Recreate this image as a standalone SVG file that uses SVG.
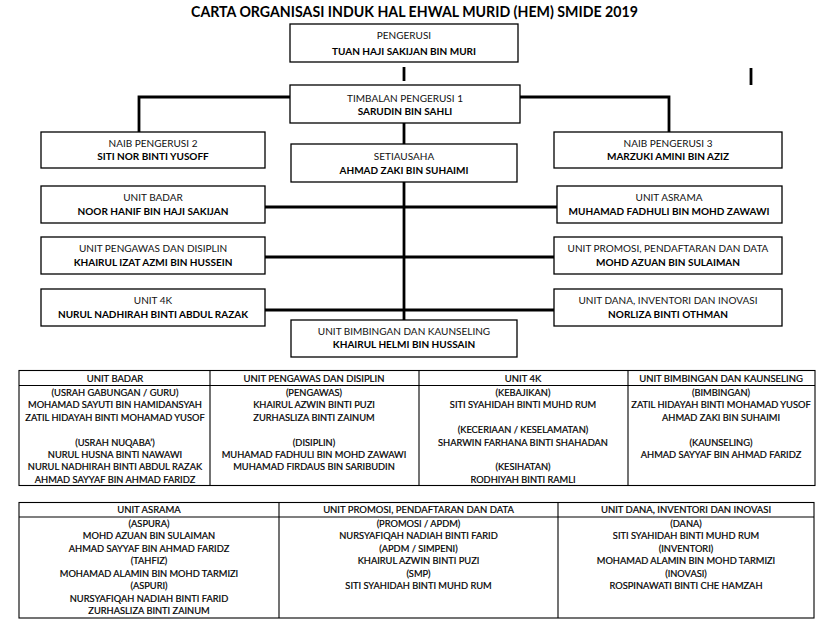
<svg xmlns="http://www.w3.org/2000/svg" width="831" height="627" viewBox="0 0 831 627">
<style>
.box{fill:#fff;stroke:#000;stroke-width:1.3}
.role{font-family:Lato,"Liberation Sans",sans-serif;font-size:10px;text-anchor:middle;fill:#111}
.name{font-family:Lato,"Liberation Sans",sans-serif;font-size:10px;font-weight:bold;text-anchor:middle;fill:#000}
.conn{stroke:#000;stroke-width:2.8;fill:none}
.tb{fill:none;stroke:#000;stroke-width:1.1}
.th{font-family:Lato,"Liberation Sans",sans-serif;font-size:9.5px;text-anchor:middle;fill:#000;stroke:#000;stroke-width:0.2}
.tt{font-family:Lato,"Liberation Sans",sans-serif;font-size:9.3px;text-anchor:middle;fill:#000;stroke:#000;stroke-width:0.2}
.title{font-family:Lato,"Liberation Sans",sans-serif;font-size:14.5px;font-weight:bold;fill:#000}
</style>
<rect width="831" height="627" fill="#fff"/>
<text class="title" x="191" y="17" textLength="447" lengthAdjust="spacingAndGlyphs">CARTA ORGANISASI INDUK HAL EHWAL MURID (HEM) SMIDE 2019</text>

<g id="connectors">
<path class="conn" d="M404,67V81"/>
<path class="conn" d="M751,68V85"/>
<path class="conn" d="M290,97H139V132"/>
<path class="conn" d="M520,97H669V132"/>
<path class="conn" d="M404,122V144"/>
<path class="conn" d="M404,182V320"/>
<path class="conn" d="M265,207H557"/>
<path class="conn" d="M265,257H554"/>
<path class="conn" d="M265,310H554"/>
</g>

<g id="pengerusi"><rect class="box" x="290" y="24" width="228" height="38"/><text class="role" x="404" y="38.5">PENGERUSI</text><text class="name" x="404" y="54.5">TUAN HAJI SAKIJAN BIN MURI</text></g>
<g id="timbalan"><rect class="box" x="290" y="85" width="230" height="38"/><text class="role" x="405" y="101.5">TIMBALAN PENGERUSI 1</text><text class="name" x="405" y="114.5">SARUDIN BIN SAHLI</text></g>
<g id="naib2"><rect class="box" x="41" y="132" width="224" height="36"/><text class="role" x="153" y="146.6">NAIB PENGERUSI 2</text><text class="name" x="153" y="160.3">SITI NOR BINTI YUSOFF</text></g>
<g id="setiausaha"><rect class="box" x="291" y="144" width="226" height="38"/><text class="role" x="404" y="159.6">SETIAUSAHA</text><text class="name" x="404" y="173.6">AHMAD ZAKI BIN SUHAIMI</text></g>
<g id="naib3"><rect class="box" x="554" y="132" width="228" height="36"/><text class="role" x="668" y="146.6">NAIB PENGERUSI 3</text><text class="name" x="668" y="160.3">MARZUKI AMINI BIN AZIZ</text></g>
<g id="badar"><rect class="box" x="41" y="186" width="224" height="37"/><text class="role" x="153" y="200.6">UNIT BADAR</text><text class="name" x="153" y="214.6">NOOR HANIF BIN HAJI SAKIJAN</text></g>
<g id="asrama"><rect class="box" x="557" y="186" width="225" height="37"/><text class="role" x="669" y="200.6">UNIT ASRAMA</text><text class="name" x="669" y="214.6">MUHAMAD FADHULI BIN MOHD ZAWAWI</text></g>
<g id="pengawas"><rect class="box" x="41" y="237" width="224" height="37"/><text class="role" x="153" y="252.4">UNIT PENGAWAS DAN DISIPLIN</text><text class="name" x="153" y="266.4">KHAIRUL IZAT AZMI BIN HUSSEIN</text></g>
<g id="promosi"><rect class="box" x="554" y="237" width="228" height="37"/><text class="role" x="668" y="252.4">UNIT PROMOSI, PENDAFTARAN DAN DATA</text><text class="name" x="668" y="266.4">MOHD AZUAN BIN SULAIMAN</text></g>
<g id="unit4k"><rect class="box" x="41" y="289" width="224" height="37"/><text class="role" x="153" y="304.2">UNIT 4K</text><text class="name" x="153" y="317.6">NURUL NADHIRAH BINTI ABDUL RAZAK</text></g>
<g id="dana"><rect class="box" x="554" y="289" width="228" height="37"/><text class="role" x="668" y="304.2">UNIT DANA, INVENTORI DAN INOVASI</text><text class="name" x="668" y="317.6">NORLIZA BINTI OTHMAN</text></g>
<g id="bimbingan"><rect class="box" x="291" y="320" width="226" height="37"/><text class="role" x="404" y="334.6">UNIT BIMBINGAN DAN KAUNSELING</text><text class="name" x="404" y="348.3">KHAIRUL HELMI BIN HUSSAIN</text></g>

<g id="table1">
<rect class="tb" x="19" y="370.5" width="796" height="115"/>
<path class="tb" d="M19,385.5H815M210,370.5V485.5M419,370.5V485.5M628,370.5V485.5"/>
<text class="th" x="115" y="381.5">UNIT BADAR</text>
<text class="th" x="314" y="381.5">UNIT PENGAWAS DAN DISIPLIN</text>
<text class="th" x="523" y="381.5">UNIT 4K</text>
<text class="th" x="721" y="381.5">UNIT BIMBINGAN DAN KAUNSELING</text>
<g class="tt">
<text x="115" y="396">(USRAH GABUNGAN / GURU)</text>
<text x="115" y="408.4">MOHAMAD SAYUTI BIN HAMIDANSYAH</text>
<text x="115" y="420.8">ZATIL HIDAYAH BINTI MOHAMAD YUSOF</text>
<text x="115" y="445.6">(USRAH NUQABA’)</text>
<text x="115" y="458">NURUL HUSNA BINTI NAWAWI</text>
<text x="115" y="470.4">NURUL NADHIRAH BINTI ABDUL RAZAK</text>
<text x="115" y="482.8">AHMAD SAYYAF BIN AHMAD FARIDZ</text>
<text x="314" y="396">(PENGAWAS)</text>
<text x="314" y="408.4">KHAIRUL AZWIN BINTI PUZI</text>
<text x="314" y="420.8">ZURHASLIZA BINTI ZAINUM</text>
<text x="314" y="445.6">(DISIPLIN)</text>
<text x="314" y="458">MUHAMAD FADHULI BIN MOHD ZAWAWI</text>
<text x="314" y="470.4">MUHAMAD FIRDAUS BIN SARIBUDIN</text>
<text x="523" y="396">(KEBAJIKAN)</text>
<text x="523" y="408.4">SITI SYAHIDAH BINTI MUHD RUM</text>
<text x="523" y="433.2">(KECERIAAN / KESELAMATAN)</text>
<text x="523" y="445.6">SHARWIN FARHANA BINTI SHAHADAN</text>
<text x="523" y="470.4">(KESIHATAN)</text>
<text x="523" y="482.8">RODHIYAH BINTI RAMLI</text>
<text x="721" y="396">(BIMBINGAN)</text>
<text x="721" y="408.4">ZATIL HIDAYAH BINTI MOHAMAD YUSOF</text>
<text x="721" y="420.8">AHMAD ZAKI BIN SUHAIMI</text>
<text x="721" y="445.6">(KAUNSELING)</text>
<text x="721" y="458">AHMAD SAYYAF BIN AHMAD FARIDZ</text>
</g>
</g>

<g id="table2">
<rect class="tb" x="19" y="502.5" width="795" height="115.5"/>
<path class="tb" d="M19,517H814M279,502.5V618M558,502.5V618"/>
<text class="th" x="149" y="513">UNIT ASRAMA</text>
<text class="th" x="418.5" y="513">UNIT PROMOSI, PENDAFTARAN DAN DATA</text>
<text class="th" x="686" y="513">UNIT DANA, INVENTORI DAN INOVASI</text>
<g class="tt">
<text x="149" y="526.6">(ASPURA)</text>
<text x="149" y="539.1">MOHD AZUAN BIN SULAIMAN</text>
<text x="149" y="551.6">AHMAD SAYYAF BIN AHMAD FARIDZ</text>
<text x="149" y="564.1">(TAHFIZ)</text>
<text x="149" y="576.6">MOHAMAD ALAMIN BIN MOHD TARMIZI</text>
<text x="149" y="589.1">(ASPURI)</text>
<text x="149" y="601.6">NURSYAFIQAH NADIAH BINTI FARID</text>
<text x="149" y="614.1">ZURHASLIZA BINTI ZAINUM</text>
<text x="418.5" y="526.6">(PROMOSI / APDM)</text>
<text x="418.5" y="539.1">NURSYAFIQAH NADIAH BINTI FARID</text>
<text x="418.5" y="551.6">(APDM / SIMPENI)</text>
<text x="418.5" y="564.1">KHAIRUL AZWIN BINTI PUZI</text>
<text x="418.5" y="576.6">(SMP)</text>
<text x="418.5" y="589.1">SITI SYAHIDAH BINTI MUHD RUM</text>
<text x="686" y="526.6">(DANA)</text>
<text x="686" y="539.1">SITI SYAHIDAH BINTI MUHD RUM</text>
<text x="686" y="551.6">(INVENTORI)</text>
<text x="686" y="564.1">MOHAMAD ALAMIN BIN MOHD TARMIZI</text>
<text x="686" y="576.6">(INOVASI)</text>
<text x="686" y="589.1">ROSPINAWATI BINTI CHE HAMZAH</text>
</g>
</g>
</svg>
